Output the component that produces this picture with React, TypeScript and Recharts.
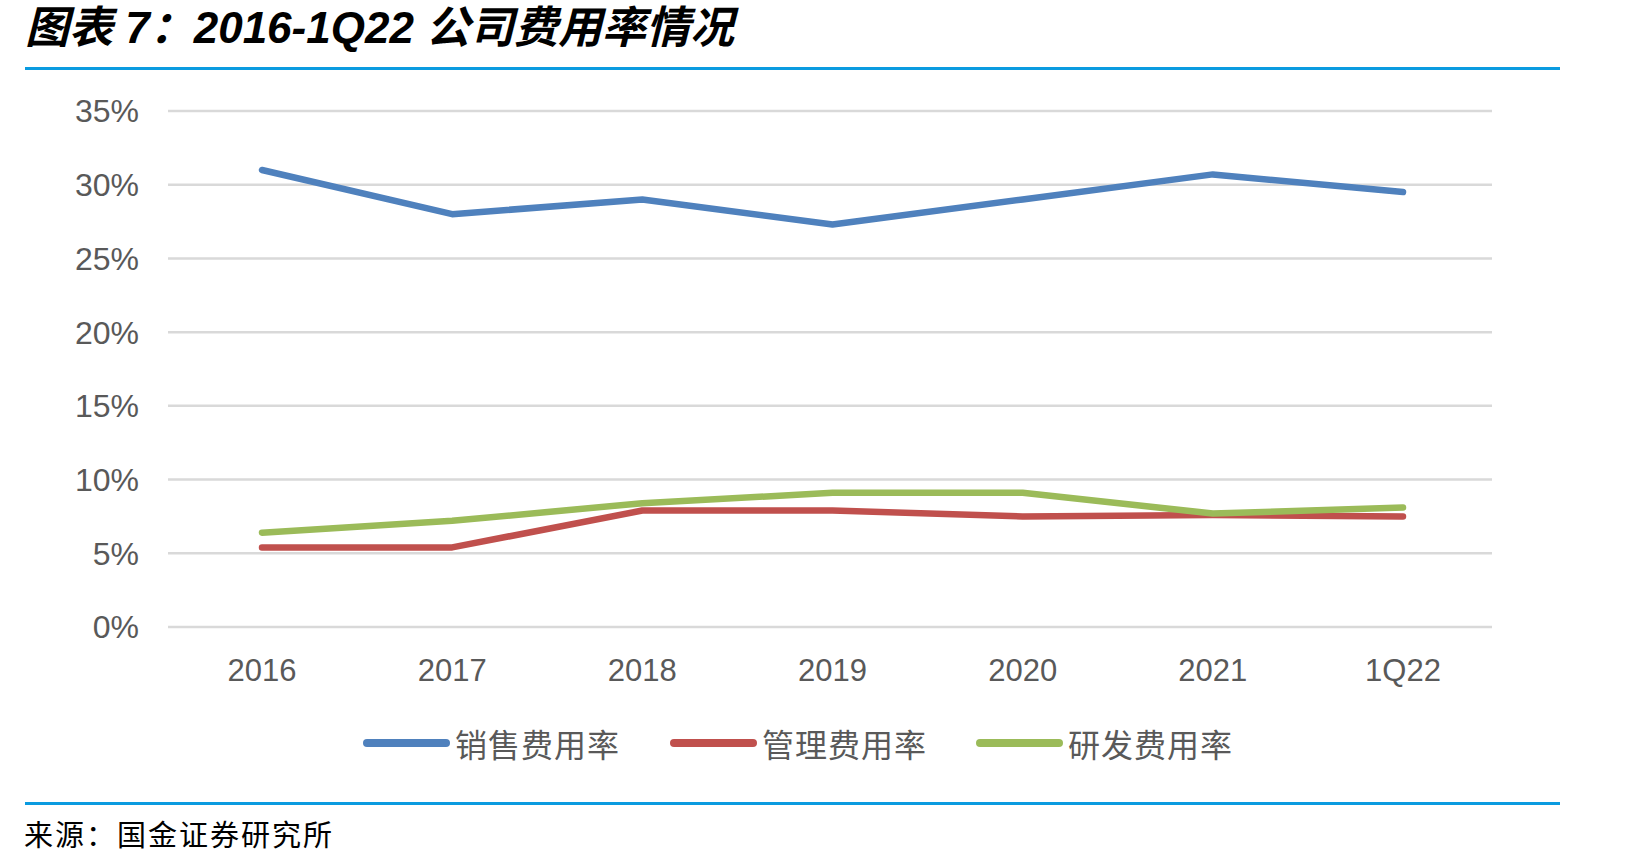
import { LineChart, Line, XAxis, YAxis, CartesianGrid } from "recharts";

const categories = ["2016", "2017", "2018", "2019", "2020", "2021", "1Q22"];
const salesRate = [31.0, 28.0, 29.0, 27.3, 29.0, 30.7, 29.5];
const adminRate = [5.4, 5.4, 7.9, 7.9, 7.5, 7.6, 7.5];
const rdRate = [6.4, 7.2, 8.4, 9.1, 9.1, 7.7, 8.1];
const yTicks = [0, 5, 10, 15, 20, 25, 30, 35];

const seriesNames = ["销售费用率", "管理费用率", "研发费用率"];
const seriesColors = ["#4F81BD", "#C0504D", "#9BBB59"];

const data = categories.map((c, i) => ({
  name: c,
  sales: salesRate[i],
  admin: adminRate[i],
  rd: rdRate[i],
}));

const LABEL = "#595959";
const RULE = "#0A9BE0";
const latin = '"Liberation Sans", Arial, sans-serif';
const cjk = '"Liberation Sans", Arial, "Noto Sans CJK SC", sans-serif';

export default function App() {
  const keys = ["sales", "admin", "rd"];
  const legendX = [363, 670, 976];

  return (
    <div style={{ position: "absolute", left: 0, top: 0, width: 1642, height: 863, background: "#fff", overflow: "hidden" }}>
      <div style={{
        position: "absolute", left: 25, top: 2, fontSize: 44, lineHeight: "52px",
        fontWeight: 700, fontStyle: "italic", fontFamily: cjk, color: "#000", whiteSpace: "nowrap",
      }}>
        图表 7：2016-1Q22 公司费用率情况
      </div>
      <div style={{ position: "absolute", left: 25, top: 67, width: 1535, height: 3, background: RULE }} />

      <div style={{ position: "absolute", left: 0, top: 0 }}>
        <LineChart
          width={1642}
          height={700}
          data={data}
          margin={{ top: 111, right: 150, bottom: 0, left: 88 }}
        >
          <CartesianGrid horizontal vertical={false} stroke="#D9D9D9" strokeWidth={2.5} />
          <XAxis
            dataKey="name"
            axisLine={false}
            tickLine={false}
            tickSize={0}
            tickMargin={32}
            height={73}
            padding={{ left: 94, right: 89 }}
            tick={{ fill: LABEL, fontSize: 31, fontFamily: latin }}
            interval={0}
          />
          <YAxis
            domain={[0, 35]}
            ticks={yTicks}
            axisLine={false}
            tickLine={false}
            tickSize={0}
            tickMargin={29}
            width={80}
            tickFormatter={(v) => `${v}%`}
            tick={{ fill: LABEL, fontSize: 32, fontFamily: latin }}
          />
          {keys.map((k, i) => (
            <Line
              key={k}
              type="linear"
              dataKey={k}
              stroke={seriesColors[i]}
              strokeWidth={6.5}
              strokeLinecap="round"
              strokeLinejoin="round"
              dot={false}
              activeDot={false}
              isAnimationActive={false}
            />
          ))}
        </LineChart>
      </div>

      {/* Legend */}
      {seriesNames.map((n, i) => (
        <div key={n} style={{ position: "absolute", left: legendX[i], top: 722, display: "flex", alignItems: "center", height: 42 }}>
          <span style={{ width: 87, height: 8, borderRadius: 4, background: seriesColors[i], display: "block" }} />
          <span style={{ marginLeft: 5, fontSize: 32, color: LABEL, fontFamily: '"Noto Sans CJK SC", sans-serif', letterSpacing: 1 }}>{n}</span>
        </div>
      ))}

      <div style={{ position: "absolute", left: 25, top: 802, width: 1535, height: 3, background: RULE }} />
      <div style={{
        position: "absolute", left: 24, top: 812, fontSize: 29, lineHeight: "42px", letterSpacing: 2,
        fontFamily: '"Noto Sans CJK SC", sans-serif', color: "#000", whiteSpace: "pre",
      }}>
        来源：国金证券研究所
      </div>
    </div>
  );
}
